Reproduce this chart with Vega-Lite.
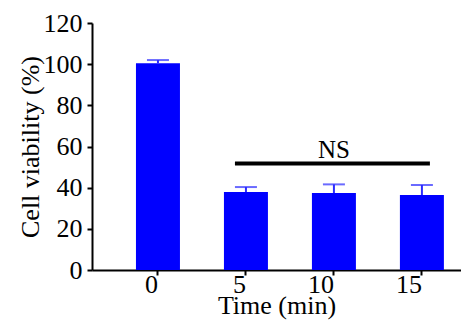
{
  "$schema": "https://vega.github.io/schema/vega-lite/v6.json",
  "autosize": {"type": "none"},
  "padding": {"left": 92, "top": 23, "right": 0, "bottom": 66},
  "width": 369,
  "height": 247,
  "background": "white",
  "config": {
    "view": {"stroke": null},
    "font": "Times New Roman, Tinos, Nimbus Roman, FreeSerif, DejaVu Serif",
    "axis": {
      "grid": false,
      "domainColor": "black",
      "domainWidth": 2,
      "tickColor": "black",
      "tickWidth": 2,
      "tickSize": 5,
      "labelFont": "Times New Roman, Tinos, Nimbus Roman, FreeSerif, DejaVu Serif",
      "labelFontSize": 26,
      "labelColor": "black",
      "titleFont": "Times New Roman, Tinos, Nimbus Roman, FreeSerif, DejaVu Serif",
      "titleFontSize": 26,
      "titleFontWeight": "normal",
      "titleColor": "black"
    }
  },
  "datasets": {
    "bars": [
      {"time": "0", "mean": 100.5, "upper": 102.0},
      {"time": "5", "mean": 37.9, "upper": 40.3},
      {"time": "10", "mean": 37.4, "upper": 41.6},
      {"time": "15", "mean": 36.4, "upper": 41.3}
    ],
    "ns": [
      {"start": "5", "end": "15", "mid": "10", "y": 51.8, "ty": 58.3, "label": "NS"}
    ]
  },
  "layer": [
    {
      "data": {"name": "bars"},
      "mark": {"type": "rule", "color": "#2b2bff", "strokeWidth": 2},
      "encoding": {
        "x": {"field": "time", "type": "nominal"},
        "y": {"field": "mean", "type": "quantitative"},
        "y2": {"field": "upper"}
      }
    },
    {
      "data": {"name": "bars"},
      "mark": {"type": "tick", "color": "#2b2bff", "size": 22, "thickness": 2, "orient": "horizontal"},
      "encoding": {
        "x": {"field": "time", "type": "nominal"},
        "y": {"field": "upper", "type": "quantitative"}
      }
    },
    {
      "data": {"name": "bars"},
      "mark": {"type": "bar", "color": "#0000ff"},
      "encoding": {
        "x": {
          "field": "time",
          "type": "nominal",
          "sort": ["0", "5", "10", "15"],
          "scale": {"domain": ["0", "5", "10", "15"], "paddingInner": 0.5, "paddingOuter": 0.347, "align": 0.72},
          "axis": {"title": "Time (min)", "labelAngle": 0, "labelPadding": 9, "titlePadding": -5}
        },
        "y": {
          "field": "mean",
          "type": "quantitative",
          "scale": {"domain": [0, 120], "nice": false},
          "axis": {"title": "Cell viability (%)", "values": [0, 20, 40, 60, 80, 100, 120], "labelPadding": 5, "titlePadding": 0}
        }
      }
    },
    {
      "data": {"name": "ns"},
      "mark": {"type": "rule", "color": "black", "strokeWidth": 4, "xOffset": -11, "x2Offset": 8},
      "encoding": {
        "x": {"field": "start", "type": "nominal"},
        "x2": {"field": "end"},
        "y": {"field": "y", "type": "quantitative"}
      }
    },
    {
      "data": {"name": "ns"},
      "mark": {"type": "text", "fontSize": 25, "font": "Times New Roman, Tinos, Nimbus Roman, FreeSerif, DejaVu Serif", "color": "black", "baseline": "middle", "align": "center"},
      "encoding": {
        "x": {"field": "mid", "type": "nominal"},
        "y": {"field": "ty", "type": "quantitative"},
        "text": {"field": "label"}
      }
    }
  ]
}
